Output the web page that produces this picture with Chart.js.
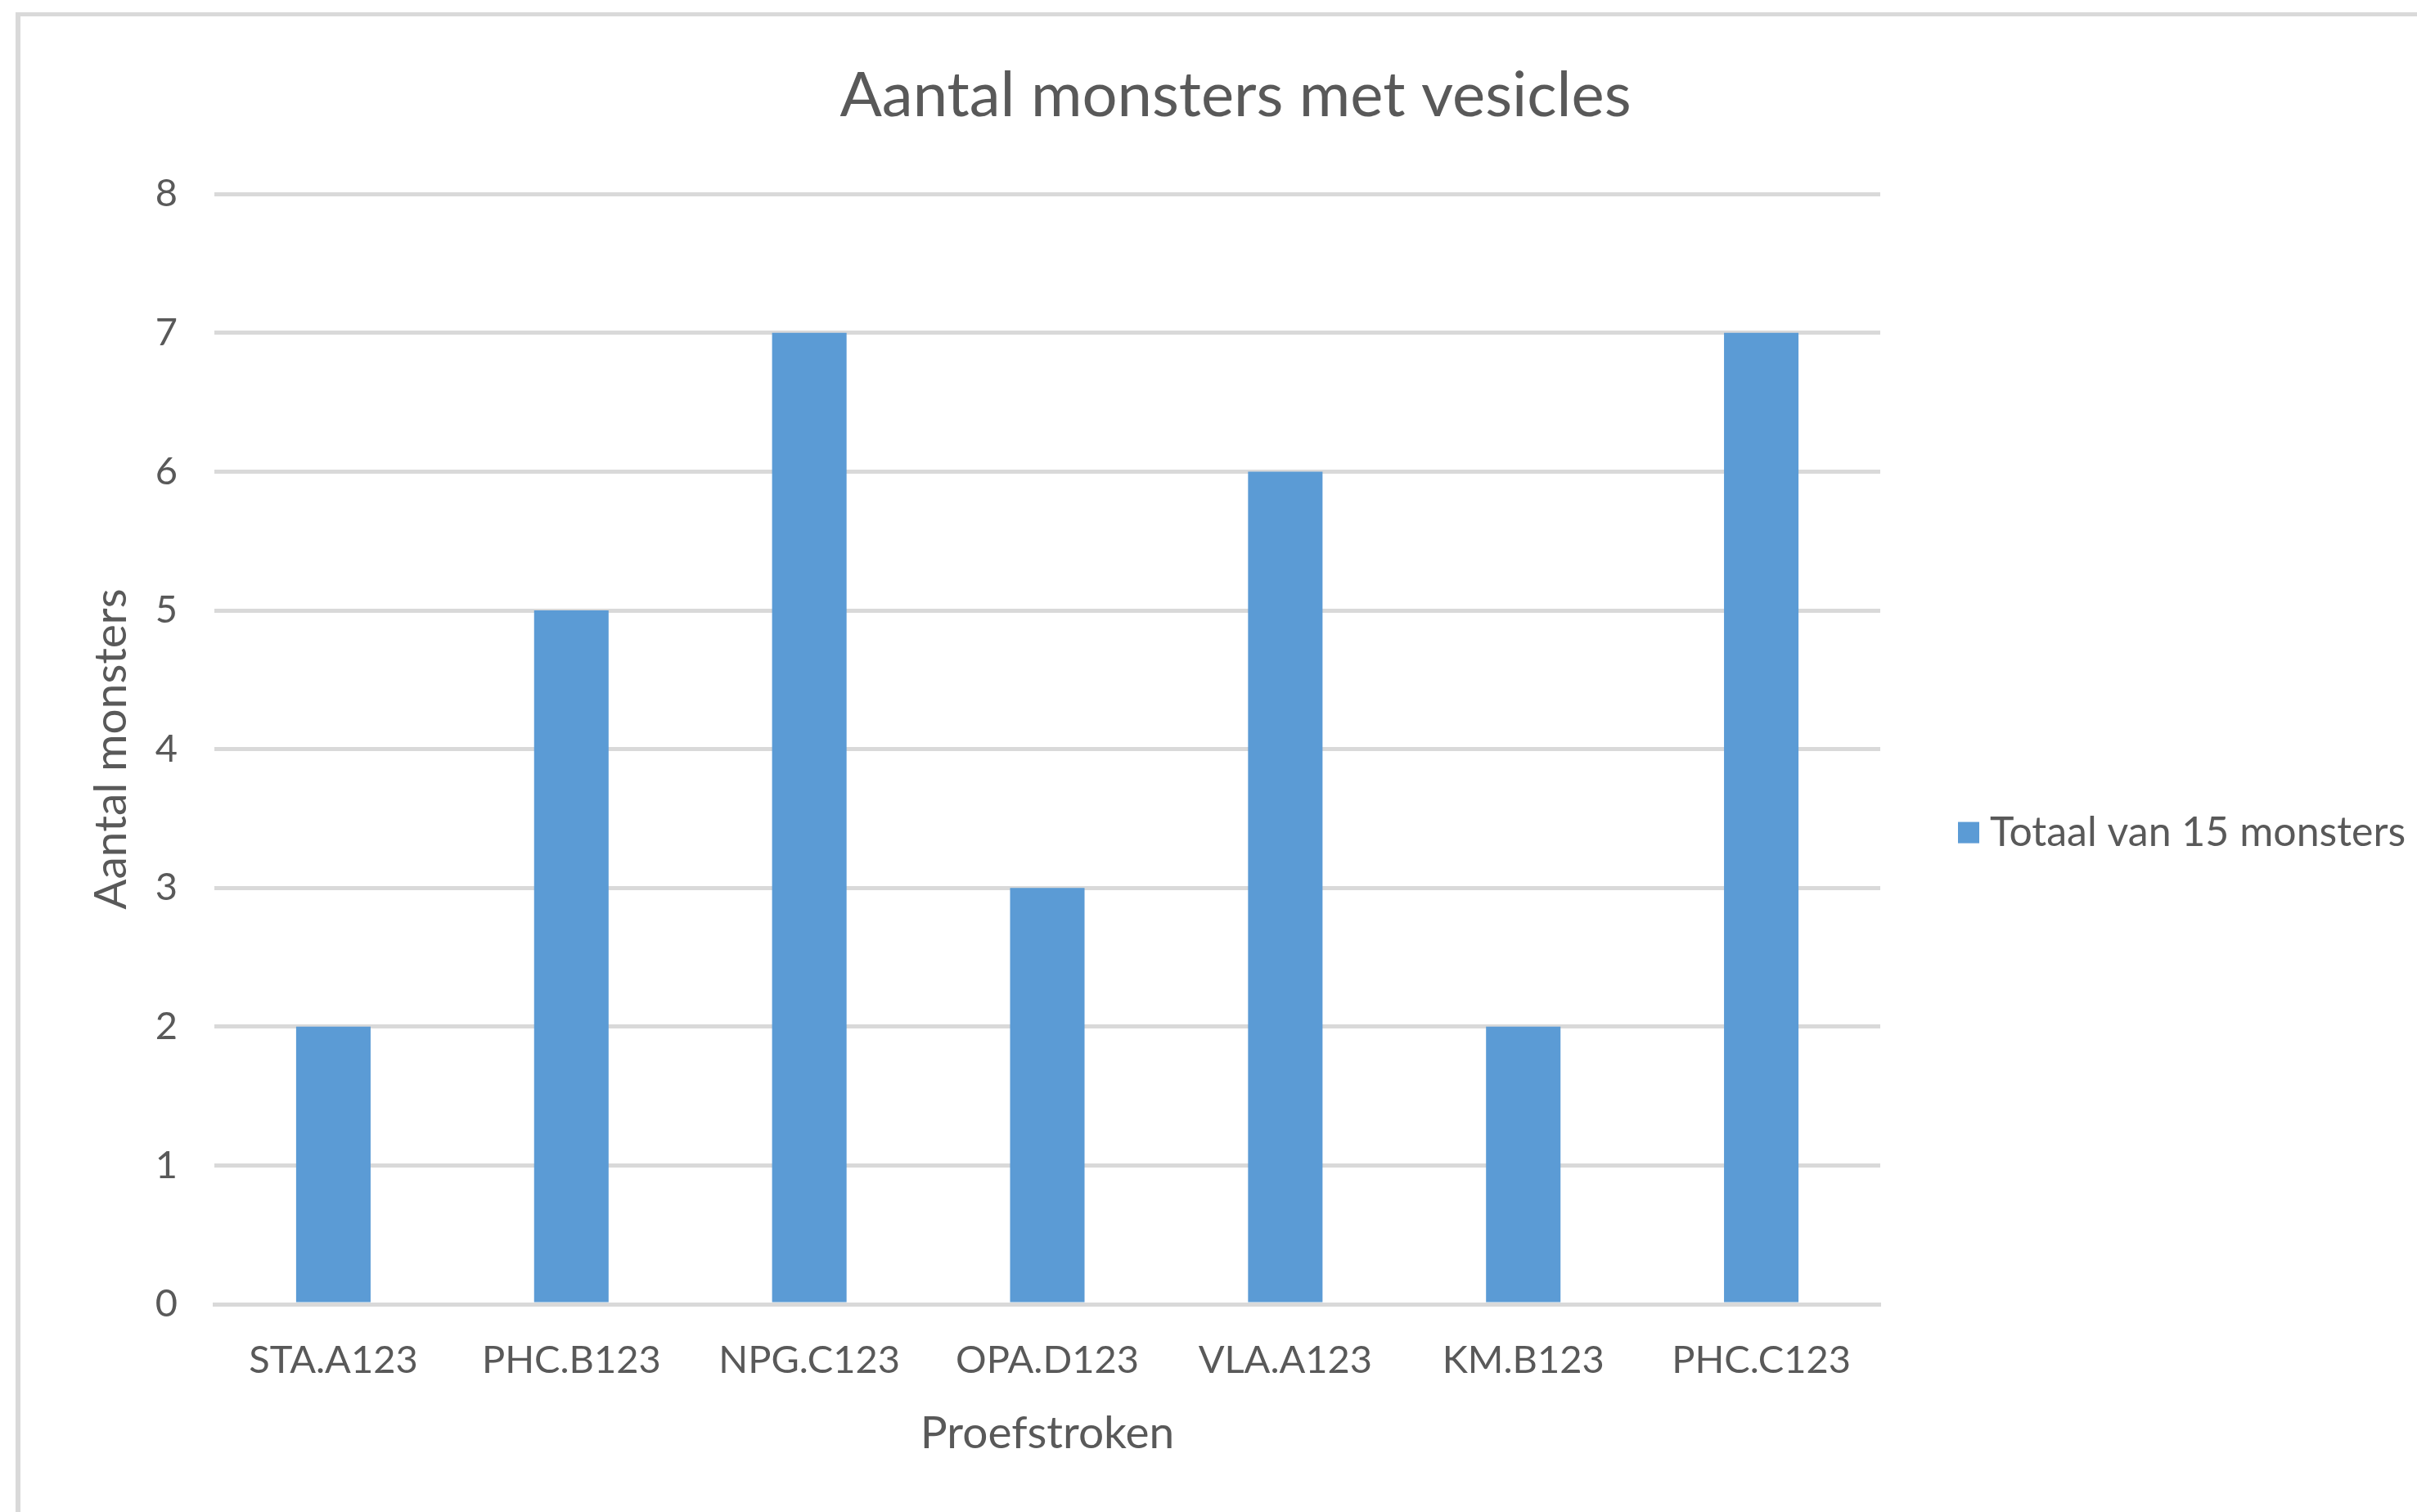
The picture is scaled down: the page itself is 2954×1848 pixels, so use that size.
<!DOCTYPE html>
<html>
<head>
<meta charset="utf-8">
<title>Aantal monsters met vesicles</title>
<script src="https://cdn.jsdelivr.net/npm/chart.js@4.4.0/dist/chart.umd.min.js"></script>
<style>
  html, body { margin: 0; padding: 0; background: #fff; overflow: hidden; }
  #frame {
    position: absolute; left: 19px; top: 15px;
    width: 4000px; height: 4000px;
    border-left: 6px solid #d9d9d9; border-top: 5px solid #d9d9d9;
  }
  #chart { position: absolute; left: 0; top: 0; }
</style>
</head>
<body>
<div id="frame"></div>
<canvas id="chart" width="3020" height="1848"></canvas>
<script>
// data
const categories = ['STA.A123', 'PHC.B123', 'NPG.C123', 'OPA.D123', 'VLA.A123', 'KM.B123', 'PHC.C123'];
const seriesName = 'Totaal van 15 monsters';
const seriesValues = [2, 5, 7, 3, 6, 2, 7];
const yTicks = [0, 1, 2, 3, 4, 5, 6, 7, 8];

const TEXT = '#595959';
const GRID = '#d9d9d9';
const BAR = '#5b9bd5';
const FONT = 'Lato, "Open Sans", sans-serif';

// Excel style legend: one box to the right of the plot
const sideLegend = {
  id: 'sideLegend',
  afterDraw(chart) {
    const ctx = chart.ctx;
    const area = chart.chartArea;
    const ds = chart.data.datasets[0];
    const x = area.right + 95;
    const y = (area.top + area.bottom) / 2 + 102;
    ctx.save();
    ctx.fillStyle = ds.backgroundColor;
    ctx.fillRect(x, y - 13, 26, 26);
    ctx.fillStyle = TEXT;
    ctx.font = '50px ' + FONT;
    ctx.textBaseline = 'middle';
    ctx.textAlign = 'left';
    ctx.fillText(ds.label, x + 39, y);
    ctx.restore();
  }
};

const ctx = document.getElementById('chart').getContext('2d');

const chart = new Chart(ctx, {
  type: 'bar',
  data: {
    labels: categories,
    datasets: [{
      label: seriesName,
      data: seriesValues,
      backgroundColor: BAR,
      borderWidth: 0,
      categoryPercentage: 1,
      barPercentage: 0.313
    }]
  },
  options: {
    responsive: false,
    animation: false,
    devicePixelRatio: 1,
    layout: { padding: { left: 25, top: 20, right: 25, bottom: 0 } },
    plugins: {
      legend: { display: false },
      tooltip: { enabled: false },
      title: {
        display: true,
        text: 'Aantal monsters met vesicles',
        color: TEXT,
        font: { family: FONT, size: 76, weight: 'normal' },
        padding: { top: 52, bottom: 74 }
      }
    },
    scales: {
      x: {
        afterFit: s => { s.height = 254; },
        grid: { display: false, drawTicks: false },
        border: { display: true, color: GRID, width: 5 },
        ticks: {
          color: TEXT,
          font: { family: FONT, size: 47 },
          padding: 41,
          maxRotation: 0
        },
        title: {
          display: true,
          text: 'Proefstroken',
          color: TEXT,
          font: { family: FONT, size: 55 },
          padding: { top: 0, bottom: 63 }
        }
      },
      y: {
        min: yTicks[0],
        max: yTicks[yTicks.length - 1],
        afterFit: s => { s.width = 237; },
        afterBuildTicks: s => { s.ticks = yTicks.map(v => ({ value: v })); },
        grid: { color: GRID, lineWidth: 5, drawTicks: false },
        border: { display: false },
        ticks: {
          color: TEXT,
          font: { family: FONT, size: 47 },
          padding: 45
        },
        title: {
          display: true,
          text: 'Aantal monsters',
          color: TEXT,
          font: { family: FONT, size: 55 },
          padding: { top: 78, bottom: 0 }
        }
      },
      // empty right-hand column that holds the legend space
      side: {
        type: 'linear',
        position: 'right',
        afterFit: s => { s.width = 697; },
        grid: { display: false, drawTicks: false },
        border: { display: false },
        ticks: { display: false }
      }
    }
  },
  plugins: [sideLegend]
});
</script>
</body>
</html>
